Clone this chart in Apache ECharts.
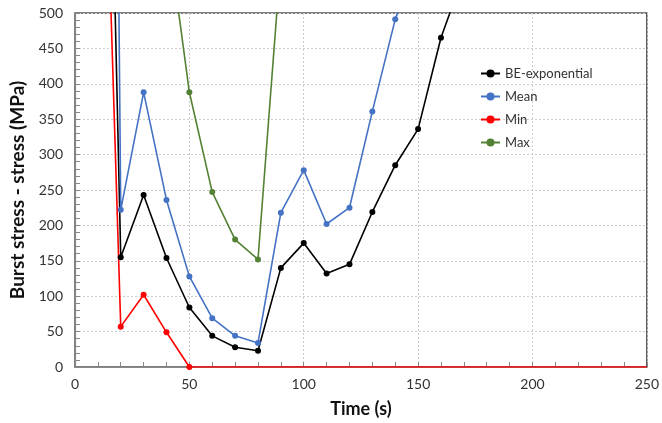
<!DOCTYPE html>
<html>
<head>
<meta charset="utf-8">
<script src="https://cdn.jsdelivr.net/npm/echarts@6/dist/echarts.min.js"></script>
<style>
html,body{margin:0;padding:0;background:#fff;}
#chart{width:662px;height:423px;}
</style>
</head>
<body>
<div id="chart"></div>
<script>
// ---- Data ----
const seriesNames = ['BE-exponential', 'Mean', 'Min', 'Max'];

const beTime = [10, 20, 30, 40, 50, 60, 70, 80, 90, 100, 110, 120, 130, 140, 150, 160, 170];
const beVals = [1575, 155, 243, 154, 84, 44, 28, 23, 140, 175, 132, 145, 219, 285, 336, 465, 555];

const meanTime = [10, 20, 30, 40, 50, 60, 70, 80, 90, 100, 110, 120, 130, 140, 150];
const meanVals = [3780, 222, 388, 236, 128, 69, 44, 34, 218, 278, 202, 225, 361, 491, 580];

const minTime = [10, 20, 30, 40, 50, 250];
const minVals = [1100, 57, 102, 49, 0, 0];
const minMarkerShown = [true, true, true, true, true, false];

const maxTime = [40, 50, 60, 70, 80, 90];
const maxVals = [629, 388, 247, 180, 152, 575];

const xTicks = [0, 50, 100, 150, 200, 250];
const yTicks = [0, 50, 100, 150, 200, 250, 300, 350, 400, 450, 500];

const colors = ['#000000', '#4472C4', '#FF0000', '#548235'];

function pairs(t, v, shown) {
  return t.map((x, i) => {
    const item = { value: [x, v[i]] };
    if (shown && !shown[i]) item.symbol = 'none';
    return item;
  });
}

const FONT = 'Lato, "Open Sans", sans-serif';
const chart = echarts.init(document.getElementById('chart'), null, { renderer: 'canvas' });

const mkSeries = (name, data, color) => ({
  name, type: 'line', data, color,
  symbol: 'circle', symbolSize: 6, showAllSymbol: true,
  lineStyle: { width: 1.6, color },
  itemStyle: { color },
  clip: true, animation: false, z: 3
});

chart.setOption({
  animation: false,
  backgroundColor: '#fff',
  textStyle: { fontFamily: FONT },
  grid: { left: 73, right: 13, top: 13, bottom: 54, show: true, borderColor: '#555', borderWidth: 1.5 },
  legend: {
    orient: 'vertical', left: 475, top: 62, itemGap: 10, itemWidth: 19, itemHeight: 10,
    data: seriesNames,
    textStyle: { fontFamily: FONT, fontSize: 13, color: '#333' }
  },
  xAxis: {
    type: 'value', min: xTicks[0], max: xTicks[xTicks.length - 1], interval: 50,
    name: 'Time (s)', nameLocation: 'middle', nameGap: 33,
    nameTextStyle: { fontFamily: FONT, fontSize: 18, fontWeight: 'bold', color: '#111' },
    axisLine: { show: true, lineStyle: { color: '#888', width: 1.2 } },
    axisTick: { show: true, inside: true, length: 5, lineStyle: { color: '#888' } },
    minorTick: { show: true, splitNumber: 5, length: 5, lineStyle: { color: '#888' } },
    axisLabel: { fontFamily: FONT, fontSize: 14, color: '#333', margin: 10 },
    splitLine: { show: true, lineStyle: { color: '#ccc', type: [2, 2], width: 1 } }
  },
  yAxis: {
    type: 'value', min: yTicks[0], max: yTicks[yTicks.length - 1], interval: 50,
    name: 'Burst stress - stress (MPa)', nameLocation: 'middle', nameGap: 48,
    nameTextStyle: { fontFamily: FONT, fontSize: 19, fontWeight: 'bold', color: '#111' },
    axisLine: { show: true, lineStyle: { color: '#888', width: 1.2 } },
    axisTick: { show: true, inside: true, length: 5, lineStyle: { color: '#888' } },
    minorTick: { show: true, splitNumber: 5, length: 5, lineStyle: { color: '#888' } },
    axisLabel: { fontFamily: FONT, fontSize: 14, color: '#333', margin: 12 },
    splitLine: { show: true, lineStyle: { color: '#ccc', type: [2, 2], width: 1 } }
  },
  series: [
    mkSeries(seriesNames[0], pairs(beTime, beVals), colors[0]),
    mkSeries(seriesNames[1], pairs(meanTime, meanVals), colors[1]),
    mkSeries(seriesNames[2], pairs(minTime, minVals, minMarkerShown), colors[2]),
    mkSeries(seriesNames[3], pairs(maxTime, maxVals), colors[3])
  ]
});
</script>
</body>
</html>
